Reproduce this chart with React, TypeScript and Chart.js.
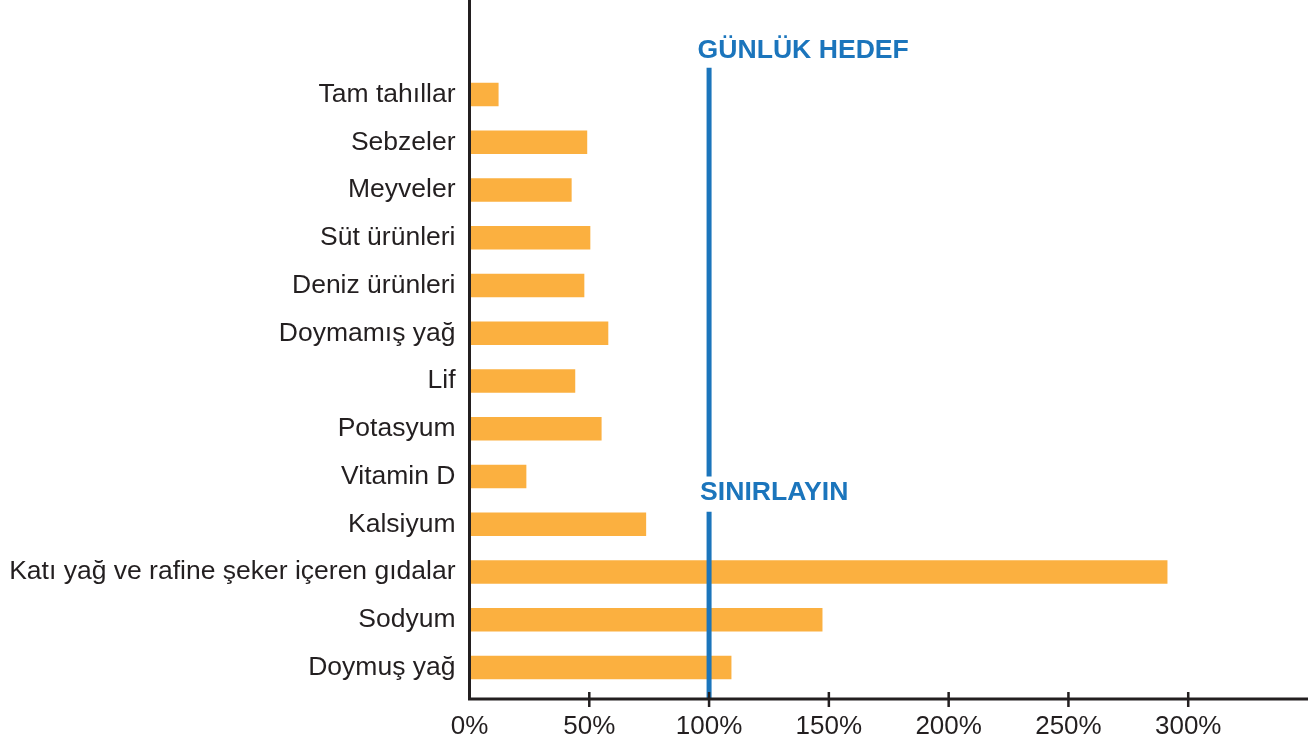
import React, { useEffect, useRef } from "react";
import { Chart, registerables } from "chart.js";

Chart.register(...registerables);

const categories: string[] = [
  "Tam tahıllar",
  "Sebzeler",
  "Meyveler",
  "Süt ürünleri",
  "Deniz ürünleri",
  "Doymamış yağ",
  "Lif",
  "Potasyum",
  "Vitamin D",
  "Kalsiyum",
  "Katı yağ ve rafine şeker içeren gıdalar",
  "Sodyum",
  "Doymuş yağ",
];

const percentOfGoal: number[] = [12, 49, 42.5, 50.3, 47.8, 57.8, 44, 55, 23.6, 73.6, 291.2, 147.2, 109.2];

const xTickValues: number[] = [0, 50, 100, 150, 200, 250, 300];
const targetValue = 100;
const targetLabelTop = "GÜNLÜK HEDEF";
const targetLabelLimit = "SINIRLAYIN";

const ORANGE = "#fbb040";
const BLUE = "#1b75bc";
const INK = "#231f20";
const FONT = "'Liberation Sans', Arial, Helvetica, sans-serif";

const overlayPlugin = {
  id: "overlay",
  afterDatasetsDraw(chart: any) {
    const { ctx, chartArea, scales } = chart;
    const xs = scales.x;
    const ys = scales.y;
    const tx = xs.getPixelForValue(targetValue);
    ctx.save();
    // target line (two segments)
    ctx.strokeStyle = BLUE;
    ctx.lineWidth = 5;
    ctx.beginPath();
    ctx.moveTo(tx, ys.getPixelForValue(-0.56));
    ctx.lineTo(tx, ys.getPixelForValue(8.0));
    ctx.moveTo(tx, ys.getPixelForValue(8.74));
    ctx.lineTo(tx, chartArea.bottom);
    ctx.stroke();
    // labels
    ctx.fillStyle = BLUE;
    ctx.font = `bold 26.6px ${FONT}`;
    ctx.textAlign = "left";
    ctx.textBaseline = "middle";
    ctx.fillText(targetLabelTop, tx - 11.5, ys.getPixelForValue(-0.92));
    ctx.fillText(targetLabelLimit, tx - 9, ys.getPixelForValue(8.34));
    // axes
    ctx.strokeStyle = INK;
    ctx.lineWidth = 3;
    ctx.beginPath();
    ctx.moveTo(chartArea.left, 0);
    ctx.lineTo(chartArea.left, chartArea.bottom + 1.5);
    ctx.moveTo(chartArea.left - 1.5, chartArea.bottom);
    ctx.lineTo(chartArea.right, chartArea.bottom);
    ctx.stroke();
    ctx.lineWidth = 2.5;
    ctx.beginPath();
    xTickValues.forEach((v) => {
      if (v === 0) return;
      const px = xs.getPixelForValue(v);
      ctx.moveTo(px, chartArea.bottom - 7);
      ctx.lineTo(px, chartArea.bottom + 8);
    });
    ctx.stroke();
    ctx.restore();
  },
};

export default function App() {
  const ref = useRef<HTMLCanvasElement>(null);
  useEffect(() => {
    document.body.style.margin = "0";
    const chart = new Chart(ref.current as HTMLCanvasElement, {
      type: "bar",
      data: {
        datasets: [
          {
            data: percentOfGoal.map((v, i) => ({ x: v, y: i })),
            backgroundColor: ORANGE,
            borderWidth: 0,
            barThickness: 23,
          },
        ],
      },
      options: {
        indexAxis: "y",
        animation: false,
        responsive: false,
        layout: { padding: { top: 0, right: 7, bottom: 0, left: 0 } },
        plugins: { legend: { display: false }, tooltip: { enabled: false } },
        scales: {
          x: {
            type: "linear",
            min: 0,
            max: 350,
            offset: false,
            grid: { display: false, drawTicks: false },
            border: { display: false },
            afterBuildTicks: (s: any) => {
              s.ticks = xTickValues.map((v) => ({ value: v }));
            },
            afterFit: (s: any) => {
              s.height = 48;
              s.paddingLeft = 0;
              s.paddingRight = 0;
            },
            ticks: {
              color: INK,
              padding: 12,
              font: { family: FONT, size: 26 },
              callback: (v: any) => `${v}%`,
            },
          },
          y: {
            type: "linear",
            reverse: true,
            min: -1.98,
            max: 12.66,
            offset: false,
            bounds: "data",
            grid: { display: false, drawTicks: false, offset: false },
            border: { display: false },
            afterBuildTicks: (s: any) => {
              s.ticks = categories.map((_, i) => ({ value: i }));
            },
            afterFit: (s: any) => {
              s.width = 469.5;
              s.paddingTop = 0;
              s.paddingBottom = 0;
            },
            ticks: {
              color: INK,
              padding: 14,
              font: { family: FONT, size: 26.5 },
              callback: (v: any) => categories[v as number] ?? "",
            },
          },
        },
      },
      plugins: [overlayPlugin],
    } as any);
    return () => chart.destroy();
  }, []);
  return (
    <div style={{ position: "fixed", left: 0, top: 0, width: 1315, height: 747, background: "#fff" }}>
      <canvas ref={ref} width={1315} height={747} />
    </div>
  );
}
